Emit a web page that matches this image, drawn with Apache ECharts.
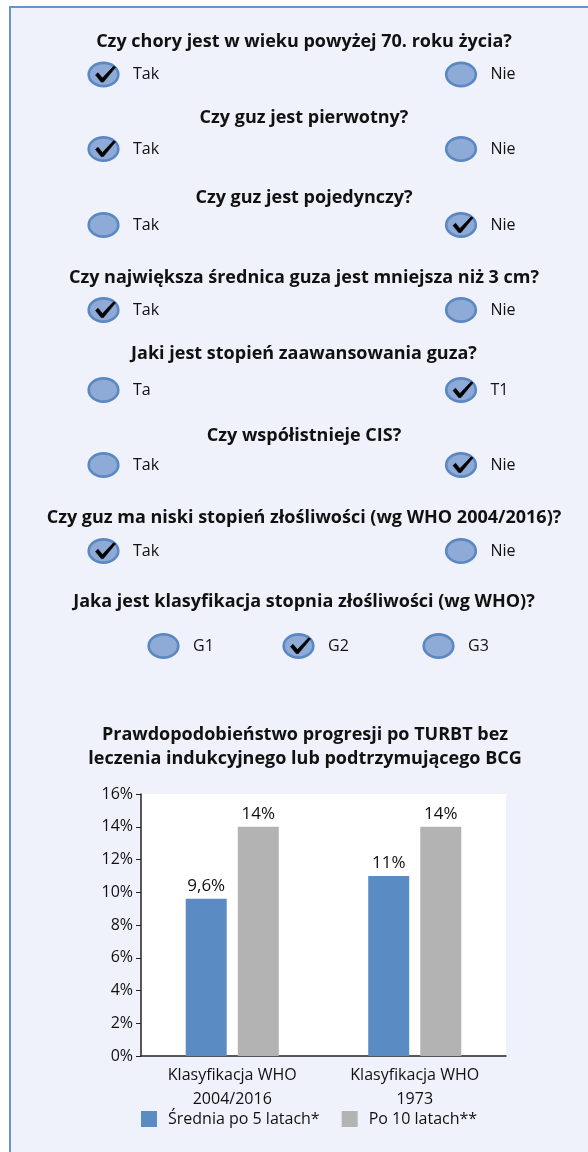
<!DOCTYPE html>
<html><head><meta charset="utf-8">
<script src="https://cdn.jsdelivr.net/npm/echarts@6/dist/echarts.min.js"></script>
<style>html,body{margin:0;padding:0;background:#fff}#c{width:588px;height:1152px}</style>
</head><body><div id="c"></div>
<script>
// ---- data ----
const questions = [
  'Czy chory jest w wieku powyżej 70. roku życia?',
  'Czy guz jest pierwotny?',
  'Czy guz jest pojedynczy?',
  'Czy największa średnica guza jest mniejsza niż 3 cm?',
  'Jaki jest stopień zaawansowania guza?',
  'Czy współistnieje CIS?',
  'Czy guz ma niski stopień złośliwości (wg WHO 2004/2016)?',
  'Jaka jest klasyfikacja stopnia złośliwości (wg WHO)?'
];
const answers = [
  ['Tak','Nie'],['Tak','Nie'],['Tak','Nie'],['Tak','Nie'],
  ['Ta','T1'],['Tak','Nie'],['Tak','Nie'],['G1','G2','G3']
];
const selected = [0,0,1,0,1,1,0,1];
const chartTitle = 'Prawdopodobieństwo progresji po TURBT bez\nleczenia indukcyjnego lub podtrzymującego BCG';
const categories = ['Klasyfikacja WHO\n2004/2016','Klasyfikacja WHO\n1973'];
const seriesNames = ['Średnia po 5 latach*','Po 10 latach**'];
const values5 = [9.6, 11];
const values10 = [14, 14];
const yTicks = [0,2,4,6,8,10,12,14,16];

// ---- layout ----
const FONT = 'Open Sans';
const qY = [42,118,198,278,354,436,518,602];
const aY = [74.5,149,225,310,390,465,551,646];
const twoX = [103.5,461];
const threeX = [163.5,298.5,438.5];

function checkPoints(cx, cy) {
  const p = [[-9.5,0.5],[-7,-1.8],[-2.6,3.6],[8.6,-8.2],[10.6,-7.2],[-1.6,7.6],[-3.8,7.6]];
  return p.map(([x,y]) => [cx + 1.5 + x, cy + y]);
}

const graphics = [];
graphics.push({type:'rect', z:-100, shape:{x:10,y:7,width:640,height:1200},
  style:{fill:'#eff2fa', stroke:'#6a93c9', lineWidth:2}});
questions.forEach((q,i)=>{
  graphics.push({type:'text', x:304, y:qY[i], style:{text:q, font:'bold 18px "'+FONT+'"', fill:'#111', align:'center', verticalAlign:'middle'}});
  const xs = answers[i].length===3 ? threeX : twoX;
  answers[i].forEach((a,j)=>{
    const cx = xs[j], cy = aY[i];
    graphics.push({type:'ellipse', shape:{cx:cx, cy:cy, rx:14.8, ry:11.6},
      style:{fill:'#8eaad6', stroke:'#5b88c2', lineWidth:2.6}});
    if (selected[i]===j) {
      graphics.push({type:'polygon', shape:{points:checkPoints(cx, cy)},
        style:{fill:'#000', stroke:'#000', lineWidth:0.6, lineJoin:'round'}});
    }
    graphics.push({type:'text', x:cx+29.5, y:cy, style:{text:a, font:'16px "'+FONT+'"', fill:'#111', align:'left', verticalAlign:'middle'}});
  });
});
graphics.push({type:'text', x:305, y:747, style:{text:chartTitle, font:'bold 18px "'+FONT+'"', fill:'#111', align:'center', verticalAlign:'middle', lineHeight:24}});

const chart = echarts.init(document.getElementById('c'), null, {renderer:'canvas'});
chart.setOption({
  animation:false,
  backgroundColor:'#fff',
  textStyle:{fontFamily:FONT},
  graphic:graphics,
  grid:{left:141, top:794, width:365, height:262, show:true, backgroundColor:'#fff', borderWidth:0, containLabel:false},
  legend:{left:141, top:1111, padding:0, itemWidth:16, itemHeight:16, itemGap:22, icon:'rect',
    textStyle:{fontSize:16, color:'#111', fontFamily:FONT, padding:[0,0,0,6]},
    data:seriesNames},
  xAxis:{type:'category', data:categories,
    axisLine:{show:true, lineStyle:{color:'#222', width:1.5}},
    axisTick:{show:false},
    axisLabel:{fontSize:16, color:'#111', lineHeight:24, margin:7, fontFamily:FONT}},
  yAxis:{type:'value', min:0, max:16, interval:2,
    axisLine:{show:true, lineStyle:{color:'#222', width:1.5}},
    axisTick:{show:true, inside:false, length:5, lineStyle:{color:'#222'}},
    splitLine:{show:false},
    axisLabel:{fontSize:16, color:'#111', margin:8, fontFamily:FONT, formatter:v=>yTicks.includes(v)?v+'%':''}},
  series:[
    {name:seriesNames[0], type:'bar', data:values5, barWidth:41, barGap:'27%',
      itemStyle:{color:'#5b8bc3'},
      label:{show:true, position:'top', distance:4, fontSize:17, color:'#111', fontFamily:FONT,
        formatter:p=>String(p.value).replace('.',',')+'%'}},
    {name:seriesNames[1], type:'bar', data:values10, barWidth:41,
      itemStyle:{color:'#b3b3b3'},
      label:{show:true, position:'top', distance:4, fontSize:17, color:'#111', fontFamily:FONT,
        formatter:p=>String(p.value).replace('.',',')+'%'}}
  ]
});
</script></body></html>
